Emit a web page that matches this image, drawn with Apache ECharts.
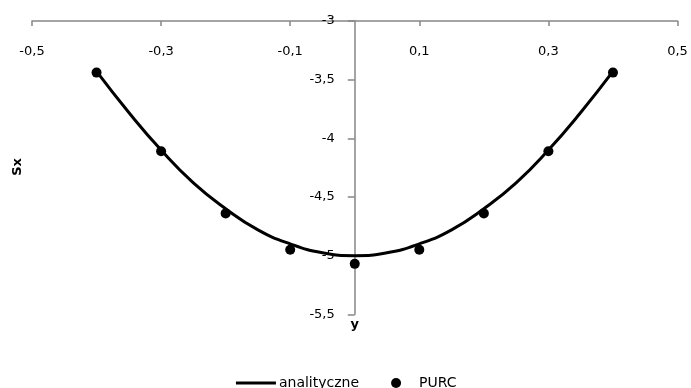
<!DOCTYPE html>
<html>
<head>
<meta charset="utf-8">
<script src="https://cdn.jsdelivr.net/npm/echarts@6/dist/echarts.min.js"></script>
<style>
  html, body { margin: 0; padding: 0; background: #fff; }
  #chart { width: 691px; height: 388px; }
</style>
</head>
<body>
<div id="chart"></div>
<script>
// analytic curve
var curveX = [-0.4, -0.35, -0.3, -0.25, -0.2, -0.15, -0.1, -0.05, 0, 0.05, 0.1, 0.15, 0.2, 0.25, 0.3, 0.35, 0.4];
var curveY = [-3.43, -3.78, -4.1, -4.38, -4.6, -4.78, -4.9, -4.975, -5, -4.975, -4.9, -4.78, -4.6, -4.38, -4.1, -3.78, -3.43];
// PURC points
var purcX = [-0.4, -0.3, -0.2, -0.1, 0, 0.1, 0.2, 0.3, 0.4];
var purcY = [-3.44, -4.11, -4.64, -4.95, -5.07, -4.95, -4.64, -4.11, -3.44];
var seriesNames = ['analityczne', 'PURC'];

function pairs(xs, ys) {
    return xs.map(function (x, i) { return [x, ys[i]]; });
}
function comma(v) {
    return String(Math.round(v * 10) / 10).replace('.', ',');
}

var myChart = echarts.init(document.getElementById('chart'));
var axisColor = '#868686';
var font = 'DejaVu Sans';
var gridLeft = 32, gridRight = 13.5;
// y axis sits at x = 0, halfway across the plot
var yAxisShift = (691 - gridLeft - gridRight) / 2;

option = {
    backgroundColor: '#fff',
    animation: false,
    grid: { left: gridLeft, right: gridRight, top: 21, bottom: 73.7, outerBoundsMode: 'none', containLabel: false },
    xAxis: {
        type: 'value',
        position: 'top',
        min: -0.5,
        max: 0.5,
        interval: 0.2,
        axisLine: { onZero: false, lineStyle: { color: axisColor, width: 1.5 } },
        axisTick: { inside: true, length: 5, lineStyle: { color: axisColor, width: 1.5 } },
        axisLabel: {
            inside: true,
            margin: 24,
            color: '#000',
            fontFamily: font,
            fontSize: 13,
            formatter: comma
        },
        splitLine: { show: false }
    },
    yAxis: {
        type: 'value',
        position: 'left',
        offset: -yAxisShift,
        min: -5.5,
        max: -3,
        interval: 0.5,
        name: 'y',
        nameLocation: 'start',
        nameGap: 4,
        nameTextStyle: { color: '#000', fontFamily: font, fontSize: 13, fontWeight: 'bold', verticalAlign: 'top' },
        axisLine: { onZero: false, lineStyle: { color: axisColor, width: 1.5 } },
        axisTick: { inside: false, length: 7, lineStyle: { color: axisColor, width: 1.5 } },
        axisLabel: {
            margin: 20,
            color: '#000',
            fontFamily: font,
            fontSize: 13,
            formatter: comma
        },
        splitLine: { show: false }
    },
    legend: {
        top: 371,
        left: 'center',
        itemWidth: 40,
        itemHeight: 10,
        itemGap: 32,
        lineStyle: { width: 3 },
        textStyle: { color: '#000', fontFamily: font, fontSize: 14, padding: [0, 0, 0, -2] },
        data: [
            { name: seriesNames[0], itemStyle: { opacity: 0 } },
            seriesNames[1]
        ]
    },
    graphic: [{
        type: 'text',
        x: 18,
        y: 167,
        rotation: Math.PI / 2,
        style: {
            text: 'Sx',
            fill: '#000',
            font: 'bold 13px "DejaVu Sans"',
            align: 'center',
            verticalAlign: 'middle'
        }
    }],
    series: [{
        name: seriesNames[0],
        type: 'line',
        smooth: true,
        symbol: 'none',
        lineStyle: { color: '#000', width: 3 },
        itemStyle: { color: '#000' },
        data: pairs(curveX, curveY),
        z: 2
    }, {
        name: seriesNames[1],
        type: 'scatter',
        symbol: 'circle',
        symbolSize: 10,
        itemStyle: { color: '#000', opacity: 1 },
        data: pairs(purcX, purcY),
        z: 3
    }]
};
myChart.setOption(option);
</script>
</body>
</html>
